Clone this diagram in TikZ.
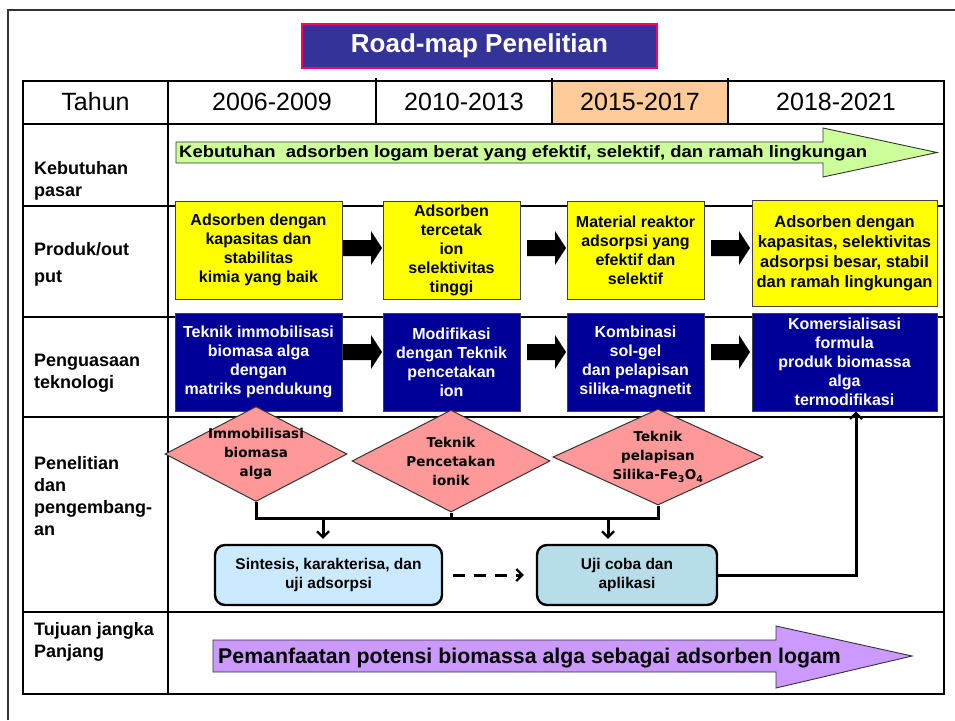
\documentclass[tikz,border=0pt]{standalone}
\usepackage{fontspec}
\setmainfont{Liberation Sans}
\newfontfamily\dvs{DejaVu Sans}
\usetikzlibrary{shapes.geometric,arrows.meta,calc}
\definecolor{titlebg}{HTML}{333399}
\definecolor{titlebd}{HTML}{FF0066}
\definecolor{peach}{HTML}{FFCC99}
\definecolor{lgreen}{HTML}{CCFF99}
\definecolor{ybox}{HTML}{FFFF00}
\definecolor{navyb}{HTML}{000099}
\definecolor{pinkd}{HTML}{FF9999}
\definecolor{lblue}{HTML}{CCEAFF}
\definecolor{lteal}{HTML}{B7DEE8}
\definecolor{lpurple}{HTML}{CC99FF}
\definecolor{framecol}{HTML}{333333}
\tikzset{
  tbl/.style={line width=2.6pt, black},
  rowlab/.style={anchor=base west, align=left, inner sep=0pt, font=\fontsize{18}{22}\selectfont\bfseries},
  hdr/.style={inner sep=0pt, font=\fontsize{25}{28}\selectfont},
  yel/.style={draw=black!75, line width=0.9pt, fill=ybox, align=center, inner sep=0pt,
    font=\fontsize{16}{19}\selectfont\bfseries},
  blu/.style={draw=black!75, line width=0.9pt, fill=navyb, text=white, align=center, inner sep=0pt,
    font=\fontsize{16}{19}\selectfont\bfseries},
  dia/.style={diamond, draw=black!80, line width=1pt, fill=pinkd, inner sep=0pt},
  dtext/.style={align=center, inner sep=0pt, font=\dvs\fontsize{13.5}{19}\selectfont\bfseries},
  rbox/.style={draw=black, line width=2.4pt, rounded corners=10pt, align=center, inner sep=0pt,
    font=\fontsize{15.5}{19}\selectfont\bfseries},
  conn/.style={line width=3pt, black},
  tipv/.style={-{Straight Barb[length=6pt,width=12pt,line width=2.2pt]}},
  pics/blockarr/.style={code={
    \fill[black] (0,-8) -- (28,-8) -- (28,-17) -- (39,0) -- (28,17) -- (28,8) -- (0,8) -- cycle;}}
}
\begin{document}
\begin{tikzpicture}[x=1pt,y=-1pt]
\useasboundingbox (0,0) rectangle (955,720);
\fill[white] (0,0) rectangle (955,720);
% outer frame
\draw[framecol, line width=2pt] (8,720) -- (8,10) -- (955,10);
% title
\node[draw=titlebd, line width=2pt, fill=titlebg, text=white, minimum width=355, minimum height=44,
  inner sep=0pt, font=\fontsize{26}{30}\selectfont\bfseries] (title) at (479.5,46) {Road-map Penelitian};
% table
\fill[peach] (552,81) rectangle (728,124);
\draw[tbl] (23,81) rectangle (944,694);
\foreach \yy in {124,206,317,417,612} \draw[tbl] (23,\yy) -- (944,\yy);
\draw[tbl] (168,81) -- (168,694);
\foreach \xx in {376,552,728} \draw[tbl] (\xx,78) -- (\xx,124);
% header
\node[hdr] (h0) at (95.5,102) {Tahun};
\node[hdr] (h1) at (272,102) {2006-2009};
\node[hdr] (h2) at (464,102) {2010-2013};
\node[hdr] (h3) at (640,102) {2015-2017};
\node[hdr] (h4) at (836,102) {2018-2021};
% row labels (anchor at baseline of last line)
\node[rowlab] (l1) at (34,196) {Kebutuhan\\pasar};
\node[rowlab] (l2) at (34,282) {Produk/out\\[5pt]put};
\node[rowlab] (l3) at (34,388) {Penguasaan\\teknologi};
\node[rowlab] (l4) at (34,535) {Penelitian\\dan\\pengembang-\\an};
\node[rowlab] (l5) at (34,657) {Tujuan jangka\\Panjang};
% green arrow
\draw[black!80, line width=0.9pt, fill=lgreen] (176,142) -- (823,142) -- (823,128) -- (937,152.5) -- (823,177) -- (823,163) -- (176,163) -- cycle;
\node[anchor=base west, inner sep=0pt] (need) at (179,157.5)
  {\resizebox{688pt}{12pt}{\bfseries Kebutuhan\ \ adsorben logam berat yang efektif, selektif, dan ramah lingkungan}};
% yellow boxes
\node[yel, minimum width=167, minimum height=98] (p1) at (258.5,250) {Adsorben dengan\\kapasitas dan\\stabilitas\\kimia yang baik};
\node[yel, minimum width=137, minimum height=98] (p2) at (451.5,250) {Adsorben\\tercetak\\ion\\selektivitas\\tinggi};
\node[yel, minimum width=137, minimum height=98] (p3) at (635.5,250) {Material reaktor\\adsorpsi yang\\efektif dan\\selektif};
\node[yel, minimum width=185, minimum height=106, font=\fontsize{16.5}{20}\selectfont\bfseries] (p4) at (844.5,253) {Adsorben dengan\\kapasitas, selektivitas\\adsorpsi besar, stabil\\dan ramah lingkungan};
\pic at (343,248) {blockarr};
\pic at (527,248) {blockarr};
\pic at (711,248) {blockarr};
% blue boxes
\node[blu, minimum width=167, minimum height=98] (k1) at (258.5,362) {Teknik immobilisasi\\biomasa alga\\dengan\\matriks pendukung};
\node[blu, minimum width=137, minimum height=98] (k2) at (451.5,362) {Modifikasi\\dengan Teknik\\pencetakan\\ion};
\node[blu, minimum width=137, minimum height=98] (k3) at (635.5,362) {Kombinasi\\sol-gel\\dan pelapisan\\silika-magnetit};
\node[blu, minimum width=185, minimum height=98] (k4) at (844.5,362) {Komersialisasi\\formula\\produk biomassa\\alga\\termodifikasi};
\pic at (343,352) {blockarr};
\pic at (527,352) {blockarr};
\pic at (711,352) {blockarr};
% diamonds
\node[dia, minimum width=182, minimum height=95, label={[dtext]center:Immobilisasi\\biomasa\\alga}] (d1) at (256,454) {};
\node[dia, minimum width=198, minimum height=102, label={[dtext]center:Teknik\\Pencetakan\\ionik}] (d2) at (451,461) {};
\node[dia, minimum width=210, minimum height=96, label={[dtext]center:Teknik\\pelapisan\\Silika-Fe\textsubscript{3}O\textsubscript{4}}] (d3) at (658,457) {};
% rounded boxes
\node[rbox, fill=lblue, minimum width=227, minimum height=60] (r1) at (328.5,575) {Sintesis, karakterisa, dan\\uji adsorpsi};
\node[rbox, fill=lteal, minimum width=180, minimum height=60] (r2) at (627,575) {Uji coba dan\\aplikasi};
% connectors
\coordinate (bus) at (0,518);
\coordinate (b1) at (323,518);
\coordinate (b2) at (608,518);
\coordinate (fb) at (856,0);
\draw[conn] (d1.south) -- (d1.south |- bus) -- (d3.south |- bus) -- (d3.south);
\draw[conn] (d2.south) -- (d2.south |- bus);
\draw[conn, tipv, shorten >=5pt] (b1) -- (b1 |- r1.north);
\draw[conn, tipv, shorten >=5pt] (b2) -- (b2 |- r2.north);
\draw[conn, tipv, dash pattern=on 12pt off 9pt, shorten <=10pt, shorten >=12pt] (r1.east) -- (r2.west);
\draw[conn, tipv] (r2.east) -| (fb |- k4.south);
% purple arrow
\draw[black!80, line width=0.9pt, fill=lpurple] (213,640) -- (776,640) -- (776,626) -- (912,656) -- (776,688) -- (776,672) -- (213,672) -- cycle;
\node[anchor=base west, inner sep=0pt, font=\fontsize{21.3}{24}\selectfont\bfseries] (goal) at (218,663.5)
  {Pemanfaatan potensi biomassa alga sebagai adsorben logam};
\end{tikzpicture}
\end{document}
